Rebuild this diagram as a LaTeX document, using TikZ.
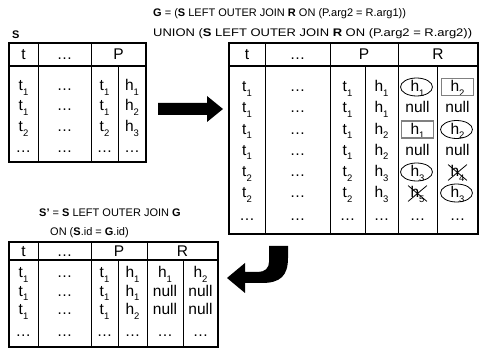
\documentclass[tikz,border=0pt]{standalone}
\usepackage{fontspec}
\setmainfont{Liberation Sans}
\usetikzlibrary{shapes.geometric,shapes.misc}
\newcommand\sbs[1]{\raisebox{-0.26em}{\fontsize{9.5}{9.5}\selectfont #1}}
\newcommand\tabrow[3]{\foreach \cx/\ct [count=\c] in {#3} {\node[cell] (#1-\c) at (\cx,#2) {\ct};}}
\tikzset{
 cell/.style={inner sep=0pt, anchor=base, font=\fontsize{15.5}{15.5}\selectfont},
 ttl/.style={inner sep=0pt, anchor=base west, font=\fontsize{11}{12}\selectfont},
 outer/.style={line width=1.4pt},
 inner/.style={line width=0.8pt},
 hsep/.style={line width=1.2pt},
 oval/.style={ellipse, draw, line width=0.8pt, minimum width=32pt, minimum height=18pt, inner sep=0pt},
 gbox/.style={draw=gray, line width=1.2pt, minimum width=32pt, minimum height=17pt, inner sep=0pt},
 xout/.style={cross out, draw, line width=0.8pt, minimum width=18pt, minimum height=15pt, inner sep=0pt},
 blockarrow/.style={fill=black, draw=none}
}
\begin{document}
\begin{tikzpicture}[x=1pt,y=-1pt]
\useasboundingbox (0,0) rectangle (480,358);
\fill[white] (0,0) rectangle (480,358);
% titles
\node[ttl] (g1) at (153,16.5) {\textbf{G} = (\textbf{S} LEFT OUTER JOIN \textbf{R} ON (P.arg2 = R.arg1))};
\node[ttl] (g2) at (153,37) {\scalebox{1.18}[1]{UNION (\textbf{S} LEFT OUTER JOIN \textbf{R} ON (P.arg2 = R.arg2))}};
\node[ttl] (slab) at (12,39) {\textbf{S}};
\node[ttl] (sp1) at (39,217) {\textbf{S'} = \textbf{S} LEFT OUTER JOIN \textbf{G}};
\node[ttl] (sp2) at (50,236) {ON (\textbf{S}.id = \textbf{G}.id)};
% ---- table S
\draw[outer] (9,43) rectangle (146,162);
\draw[hsep] (9,66) -- (146,66);
\draw[inner] (38,43) -- (38,162) (91,43) -- (91,162) (118,66) -- (118,162);
\tabrow{sh}{60}{23.5/t, 64.5/\dots, 118.5/P}
\tabrow{sa}{91}{23.5/t\sbs{1}, 64.5/\dots, 104.5/t\sbs{1}, 132/h\sbs{1}}
\tabrow{sb}{111}{23.5/t\sbs{1}, 64.5/\dots, 104.5/t\sbs{1}, 132/h\sbs{2}}
\tabrow{sc}{132}{23.5/t\sbs{2}, 64.5/\dots, 104.5/t\sbs{2}, 132/h\sbs{3}}
\tabrow{sd}{153}{23.5/\dots, 64.5/\dots, 104.5/\dots, 132/\dots}
% ---- table G
\draw[outer] (229,43) rectangle (478,234);
\draw[hsep] (229,66) -- (478,66);
\draw[inner] (265,43) -- (265,234) (330,43) -- (330,234) (398,43) -- (398,234)
  (365,66) -- (365,234) (437,66) -- (437,234);
\tabrow{gh}{60}{247/t, 297.5/\dots, 364/P, 438/R}
\tabrow{ga}{92}{247/t\sbs{1}, 297.5/\dots, 347.5/t\sbs{1}, 381.5/h\sbs{1}, 417.5/h\sbs{1}, 457.5/h\sbs{2}}
\tabrow{gb}{113}{247/t\sbs{1}, 297.5/\dots, 347.5/t\sbs{1}, 381.5/h\sbs{1}, 417.5/null, 457.5/null}
\tabrow{gc}{134.5}{247/t\sbs{1}, 297.5/\dots, 347.5/t\sbs{1}, 381.5/h\sbs{2}, 417.5/h\sbs{1}, 457.5/h\sbs{2}}
\tabrow{gd}{155.5}{247/t\sbs{1}, 297.5/\dots, 347.5/t\sbs{1}, 381.5/h\sbs{2}, 417.5/null, 457.5/null}
\tabrow{ge}{177}{247/t\sbs{2}, 297.5/\dots, 347.5/t\sbs{2}, 381.5/h\sbs{3}, 417.5/h\sbs{3}, 457.5/h\sbs{4}}
\tabrow{gf}{198}{247/t\sbs{2}, 297.5/\dots, 347.5/t\sbs{2}, 381.5/h\sbs{3}, 417.5/h\sbs{5}, 457.5/h\sbs{3}}
\tabrow{gg}{221}{247/\dots, 297.5/\dots, 347.5/\dots, 381.5/\dots, 417.5/\dots, 457.5/\dots}
% marks
\node[oval] (m1) at (416.5,87) {};
\node[gbox] (m2) at (457.5,87) {};
\node[gbox] (m3) at (417.5,129.5) {};
\node[oval] (m4) at (456.5,129.5) {};
\node[oval] (m5) at (416.5,172) {};
\node[xout] (m6) at (457.5,172.5) {};
\node[xout] (m7) at (417.5,193.5) {};
\node[oval] (m8) at (456.5,193) {};
% ---- table S'
\draw[outer] (9,242) rectangle (218,347);
\draw[hsep] (9,260) -- (218,260);
\draw[inner] (38,242) -- (38,347) (91,242) -- (91,347) (147,242) -- (147,347)
  (118,260) -- (118,347) (183,260) -- (183,347);
\tabrow{ph}{256.5}{23.5/t, 64.5/\dots, 119/P, 182.5/R}
\tabrow{pa}{278}{23.5/t\sbs{1}, 64.5/\dots, 104.5/t\sbs{1}, 132.5/h\sbs{1}, 165/h\sbs{1}, 200.5/h\sbs{2}}
\tabrow{pb}{296.5}{23.5/t\sbs{1}, 64.5/\dots, 104.5/t\sbs{1}, 132.5/h\sbs{1}, 165/null, 200.5/null}
\tabrow{pc}{315}{23.5/t\sbs{1}, 64.5/\dots, 104.5/t\sbs{1}, 132.5/h\sbs{2}, 165/null, 200.5/null}
\tabrow{pd}{337}{23.5/\dots, 64.5/\dots, 104.5/\dots, 132.5/\dots, 165/\dots, 200.5/\dots}
% ---- block arrows
\fill[blockarrow] (158,103) -- (207,103) -- (207,96) -- (223,109) -- (207,122) -- (207,115) -- (158,115) -- cycle;
\fill[blockarrow] (269,246) -- (288,246) -- (288,258) .. controls (288,276) and (280,283) .. (262,283)
  -- (245,283) -- (245,293) -- (227,278) -- (245,263) -- (245,272) -- (258,272)
  .. controls (265,272) and (269,268) .. (269,262) -- cycle;
\end{tikzpicture}
\end{document}
